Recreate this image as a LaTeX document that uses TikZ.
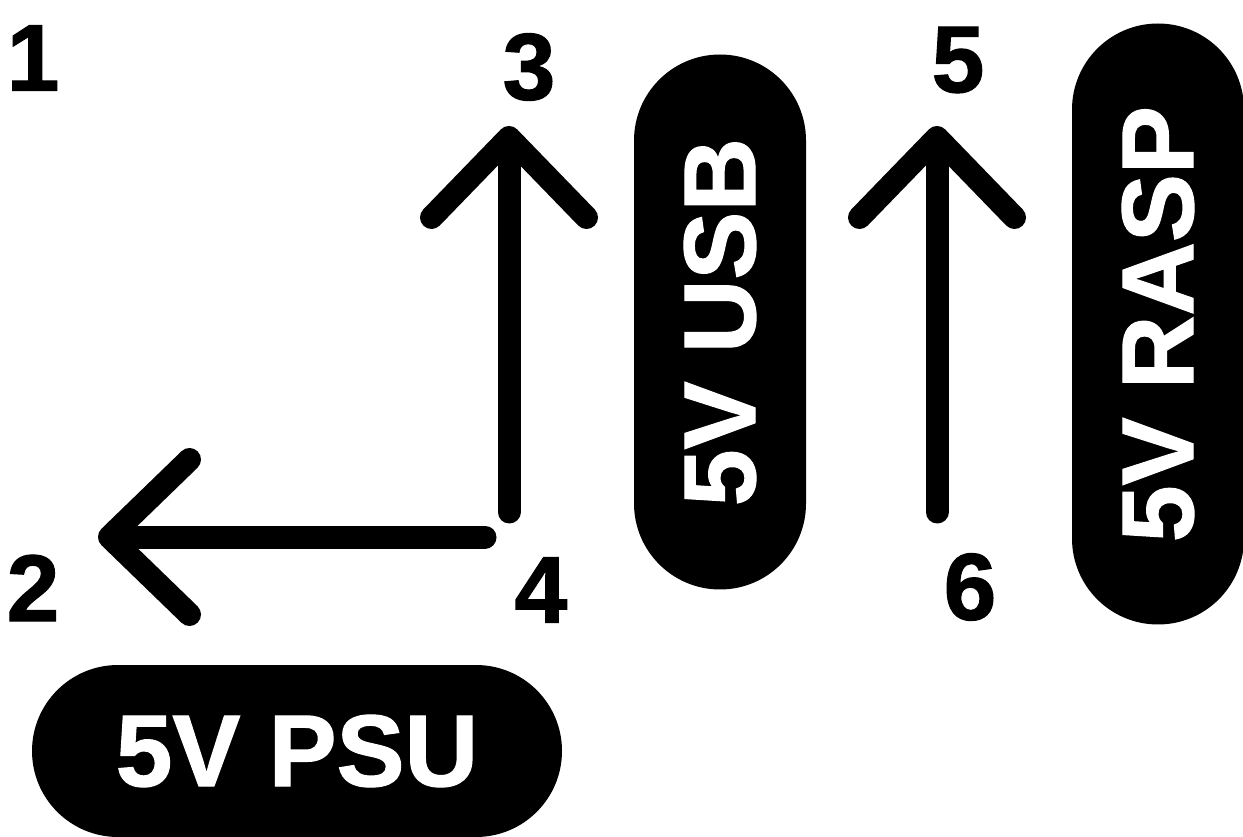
\documentclass[tikz,border=0pt]{standalone}
\usepackage{fontspec}
\setmainfont{Liberation Sans}[BoldFeatures={FakeBold=1.2}]
\usetikzlibrary{arrows.meta}
\begin{document}
\begin{tikzpicture}[x=0.1mm, y=-0.1mm,
    num/.style={font=\fontsize{27}{27}\selectfont\bfseries, inner sep=0pt},
    pill/.style={fill=black, text=white, rounded corners=8.6mm, minimum height=17.2mm, inner sep=0pt, font=\fontsize{29}{29}\selectfont\bfseries},
    wire/.style={line width=2.3mm, line cap=round, -{Straight Barb[length=8mm, width=15.5mm, round]}}]

    % Fix the page to the size of the picture
    \useasboundingbox (0,0) rectangle (1243,837);

    % The numbers of the points
    \node[num] (n1) at (33,58)  {1};
    \node[num] (n2) at (33,588) {2};
    \node[num] (n3) at (529,67) {3};
    \node[num] (n4) at (541,590) {4};
    \node[num] (n5) at (958,60) {5};
    \node[num] (n6) at (970,587) {6};

    % The three supplies, as pills
    \node[pill, minimum width=53mm] (psu) at (297,751) {5V PSU};
    \node[pill, rotate=90, minimum width=53.5mm] (usb) at (720,322) {5V USB};
    \node[pill, rotate=90, minimum width=60.1mm] (rasp) at (1158,324) {5V RASP};

    % Ends of the arrows
    \coordinate (s4) at (509,512);
    \coordinate (t3) at (509,126);
    \coordinate (s4h) at (485,537);
    \coordinate (t2) at (98,537);
    \coordinate (s6) at (937,512);
    \coordinate (t5) at (937,126);

    % The arrows
    \draw[wire] (s4) -- (t3);
    \draw[wire] (s4h) -- (t2);
    \draw[wire] (s6) -- (t5);

\end{tikzpicture}
\end{document}
